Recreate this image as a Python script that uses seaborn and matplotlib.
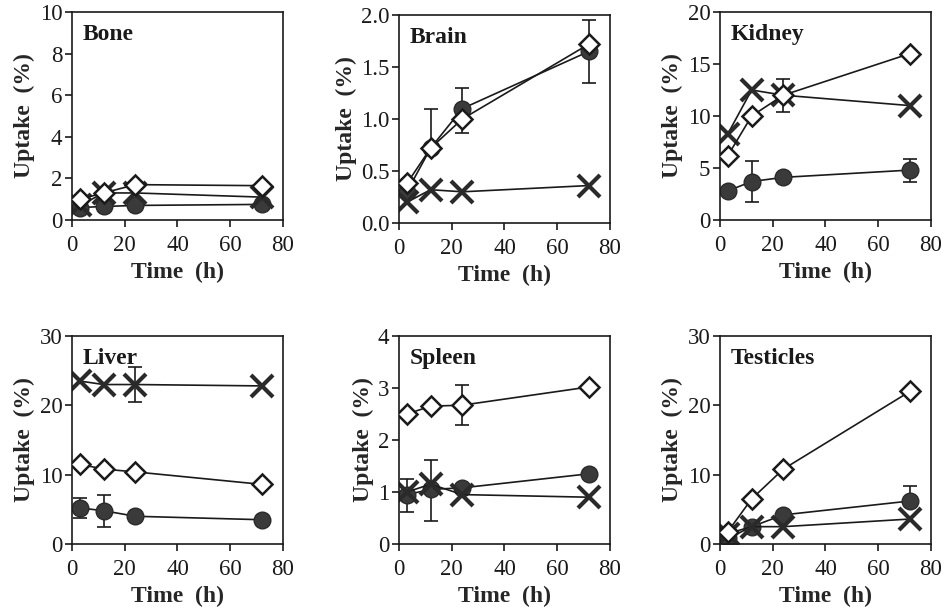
import numpy as np
import pandas as pd
import seaborn as sns
import matplotlib.pyplot as plt

sns.set_theme(style="ticks")
plt.rcParams['font.family'] = ['Liberation Serif', 'DejaVu Serif']

time = [3, 12, 24, 72]
organs = ['Bone', 'Brain', 'Kidney', 'Liver', 'Spleen', 'Testicles']
ymax = [10, 2.0, 20, 30, 4, 30]
ystep = [2, 0.5, 5, 10, 1, 10]

# open diamonds
diamond = [
    [1.0, 1.3, 1.7, 1.65],
    [0.38, 0.72, 1.0, 1.72],
    [6.2, 10.0, 12.0, 16.0],
    [11.5, 10.8, 10.4, 8.6],
    [2.5, 2.65, 2.67, 3.02],
    [1.8, 6.5, 10.8, 22.0],
]
# crosses
cross = [
    [0.7, 1.3, 1.3, 1.1],
    [0.2, 0.32, 0.3, 0.36],
    [8.3, 12.5, 12.0, 11.0],
    [23.5, 23.0, 23.0, 22.8],
    [1.0, 1.15, 0.95, 0.9],
    [1.5, 2.5, 2.5, 3.6],
]
# filled circles
circle = [
    [0.6, 0.65, 0.7, 0.75],
    [0.3, 0.72, 1.1, 1.65],
    [2.8, 3.7, 4.1, 4.8],
    [5.2, 4.8, 4.0, 3.5],
    [0.95, 1.05, 1.08, 1.35],
    [0.8, 2.5, 4.2, 6.2],
]

# error bars: (organ index, series, time index, lower, upper)
errors = [
    (1, 'circle', 1, 0.0, 0.38),
    (1, 'circle', 2, 0.0, 0.2),
    (1, 'circle', 3, 0.3, 0.3),
    (1, 'diamond', 2, 0.13, 0.0),
    (2, 'circle', 1, 2.0, 2.0),
    (2, 'circle', 3, 1.1, 1.1),
    (2, 'diamond', 2, 1.6, 1.6),
    (3, 'cross', 2, 2.5, 2.5),
    (3, 'circle', 0, 1.5, 1.5),
    (3, 'circle', 1, 2.3, 2.3),
    (4, 'diamond', 2, 0.38, 0.38),
    (4, 'circle', 0, 0.33, 0.3),
    (4, 'circle', 1, 0.6, 0.57),
    (5, 'circle', 3, 0.0, 2.2),
]

series = {'diamond': diamond, 'cross': cross, 'circle': circle}
styles = {
    'diamond': dict(marker='D', markersize=10, markerfacecolor='white',
                    markeredgecolor='#1a1a1a', markeredgewidth=1.8),
    'cross': dict(marker='x', markersize=16, markeredgecolor='#2a2a2a',
                  markeredgewidth=3.0),
    'circle': dict(marker='o', markersize=12, markerfacecolor='#3a3a3a',
                   markeredgecolor='#2a2a2a', markeredgewidth=1.0),
}
order = ['circle', 'cross', 'diamond']

fig = plt.figure(figsize=(9.45, 6.13), dpi=100)
W, H = 945, 613
boxes = [(72, 12), (399, 15), (720, 12), (72, 336), (399, 336), (720, 336)]
bw, bh = 211, 208

for i, organ in enumerate(organs):
    x0, y0 = boxes[i]
    ax = fig.add_axes([x0 / W, 1 - (y0 + bh) / H, bw / W, bh / H])
    for s in order:
        vals = series[s][i]
        df = pd.DataFrame({'time': time, 'uptake': vals})
        sns.lineplot(data=df, x='time', y='uptake', ax=ax, color='#1a1a1a',
                     linewidth=1.2, zorder=3 if s == 'diamond' else 2,
                     **styles[s])
    for (oi, s, ti, lo, hi) in errors:
        if oi != i:
            continue
        ax.errorbar([time[ti]], [series[s][i][ti]], yerr=[[lo], [hi]],
                    fmt='none', ecolor='#1a1a1a', elinewidth=1.2,
                    capsize=5, capthick=1.2, zorder=1)
    ax.set_xlim(0, 80)
    ax.set_ylim(0, ymax[i])
    ax.set_xticks([0, 20, 40, 60, 80])
    yt = np.arange(0, ymax[i] + ystep[i] / 2, ystep[i])
    ax.set_yticks(yt)
    if ystep[i] < 1:
        ax.set_yticklabels([f'{v:.1f}' for v in yt])
    else:
        ax.set_yticklabels([f'{v:g}' for v in yt])
    ax.tick_params(direction='out', length=5, width=1.2, labelsize=16.5,
                   colors='#1a1a1a')
    ax.tick_params(axis='x', pad=6)
    ax.tick_params(axis='y', pad=2)
    for sp in ax.spines.values():
        sp.set_linewidth(1.2)
        sp.set_color('#1a1a1a')
    ax.set_xlabel('Time  (h)', fontsize=17, fontweight='bold', labelpad=4)
    ax.set_ylabel('Uptake  (%)', fontsize=17, fontweight='bold', labelpad=3)
    ax.text(0.05, 0.94, organ, transform=ax.transAxes, fontsize=17,
            fontweight='bold', va='top', ha='left', color='#1a1a1a')

fig.savefig('out.png', dpi=100, facecolor='white')
